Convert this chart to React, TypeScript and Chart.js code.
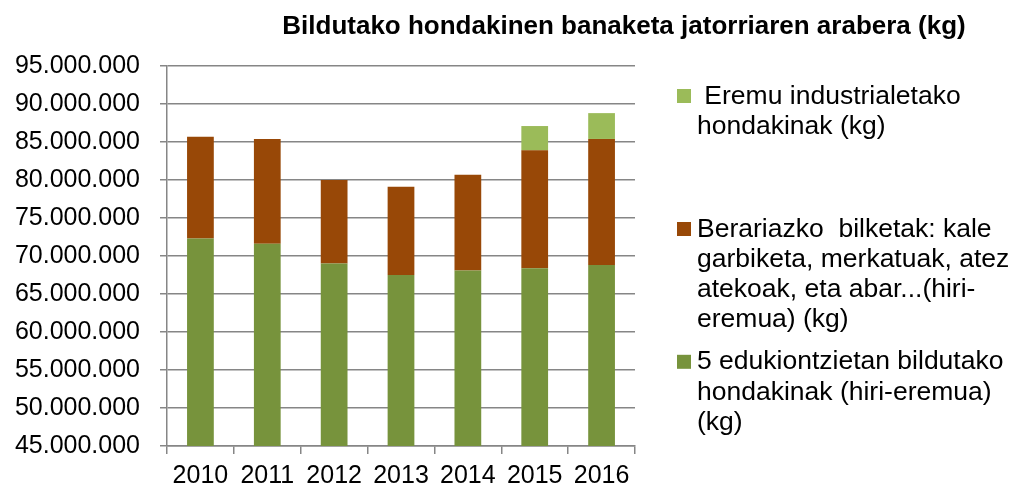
import { useEffect, useRef } from "react";
import { Chart, registerables } from "chart.js";

Chart.register(...registerables);

const years = ["2010", "2011", "2012", "2013", "2014", "2015", "2016"];
const edukiontzi = [72300000, 71600000, 69000000, 67500000, 68100000, 68400000, 68800000];
const berariazko = [13400000, 13800000, 11000000, 11600000, 12600000, 15500000, 16600000];
const industrial = [null, null, null, null, null, 3200000, 3400000];

const yMin = 45000000;
const yMax = 95000000;
const yStep = 5000000;

const titleText = "Bildutako hondakinen banaketa jatorriaren arabera (kg)";
const legendIndustrial = [" Eremu industrialetako", "hondakinak (kg)"];
const legendBerariazko = [
  "Berariazko  bilketak: kale",
  "garbiketa, merkatuak, atez",
  "atekoak, eta abar...(hiri-",
  "eremua) (kg)",
];
const legendEdukiontzi = ["5 edukiontzietan bildutako", "hondakinak (hiri-eremua)", "(kg)"];

const FONT = "'Liberation Sans', Arial, sans-serif";
const GRID = "#868686";

const formatNum = (v: number) => String(Math.round(v)).replace(/\B(?=(\d{3})+(?!\d))/g, ".");

const titlePlugin = {
  id: "customTitle",
  afterDraw(chart: any) {
    const ctx = chart.ctx;
    ctx.save();
    ctx.font = `bold 26px ${FONT}`;
    ctx.fillStyle = "#000";
    ctx.textAlign = "center";
    ctx.textBaseline = "alphabetic";
    ctx.fillText(titleText, 624, 34);
    ctx.restore();
  },
};

const legendPlugin = {
  id: "customLegend",
  afterDraw(chart: any) {
    const ctx = chart.ctx;
    const items = [
      { ds: 2, lines: legendIndustrial, base: 103.5 },
      { ds: 1, lines: legendBerariazko, base: 236.5 },
      { ds: 0, lines: legendEdukiontzi, base: 369.3 },
    ];
    const lh = 30.3;
    ctx.save();
    ctx.font = `26.5px ${FONT}`;
    ctx.textAlign = "left";
    ctx.textBaseline = "alphabetic";
    items.forEach((it) => {
      const color = chart.data.datasets[it.ds].backgroundColor;
      ctx.fillStyle = color;
      ctx.fillRect(677, it.base - 14.5, 14, 14);
      ctx.fillStyle = "#000";
      it.lines.forEach((ln: string, i: number) => {
        ctx.fillText(ln, 697, it.base + i * lh);
      });
    });
    ctx.restore();
  },
};

export default function App() {
  const ref = useRef<HTMLCanvasElement | null>(null);
  useEffect(() => {
    document.body.style.margin = "0";
    if (!ref.current) return;
    const chart = new Chart(ref.current, {
      type: "bar",
      data: {
        labels: years,
        datasets: [
          {
            label: legendEdukiontzi.join(" "),
            data: edukiontzi,
            backgroundColor: "#77933C",
            barPercentage: 0.4,
            categoryPercentage: 1,
          },
          {
            label: legendBerariazko.join(" "),
            data: berariazko,
            backgroundColor: "#984807",
            barPercentage: 0.4,
            categoryPercentage: 1,
          },
          {
            label: legendIndustrial.join(" ").trim(),
            data: industrial as any,
            backgroundColor: "#9BBB59",
            barPercentage: 0.4,
            categoryPercentage: 1,
          },
        ],
      },
      options: {
        responsive: false,
        animation: false,
        layout: { padding: { left: 0, right: 379, top: 66, bottom: 0 } },
        plugins: {
          legend: { display: false },
          title: { display: false },
          tooltip: { enabled: false },
        },
        scales: {
          x: {
            stacked: true,
            grid: {
              drawOnChartArea: false,
              drawTicks: true,
              tickLength: 8,
              color: GRID,
              lineWidth: 1.5,
              offset: true,
            },
            border: { display: true, color: GRID, width: 1.5 },
            ticks: {
              color: "#000",
              font: { family: FONT, size: 25 },
              padding: 7,
              maxRotation: 0,
              autoSkip: false,
            },
            afterFit: (scale: any) => {
              scale.height = 41;
            },
          },
          y: {
            stacked: true,
            min: yMin,
            max: yMax,
            grid: {
              drawOnChartArea: true,
              drawTicks: true,
              tickLength: 7,
              color: GRID,
              lineWidth: 1.5,
            },
            border: { display: true, color: GRID, width: 1.5 },
            ticks: {
              stepSize: yStep,
              color: "#000",
              font: { family: FONT, size: 25 },
              padding: 20,
              callback: (v: any) => formatNum(Number(v)),
            },
            afterFit: (scale: any) => {
              scale.width = 167;
            },
          },
        },
      },
      plugins: [titlePlugin, legendPlugin],
    });
    return () => chart.destroy();
  }, []);
  return (
    <div style={{ width: 1014, height: 487 }}>
      <canvas ref={ref} width={1014} height={487} style={{ display: "block" }} />
    </div>
  );
}
